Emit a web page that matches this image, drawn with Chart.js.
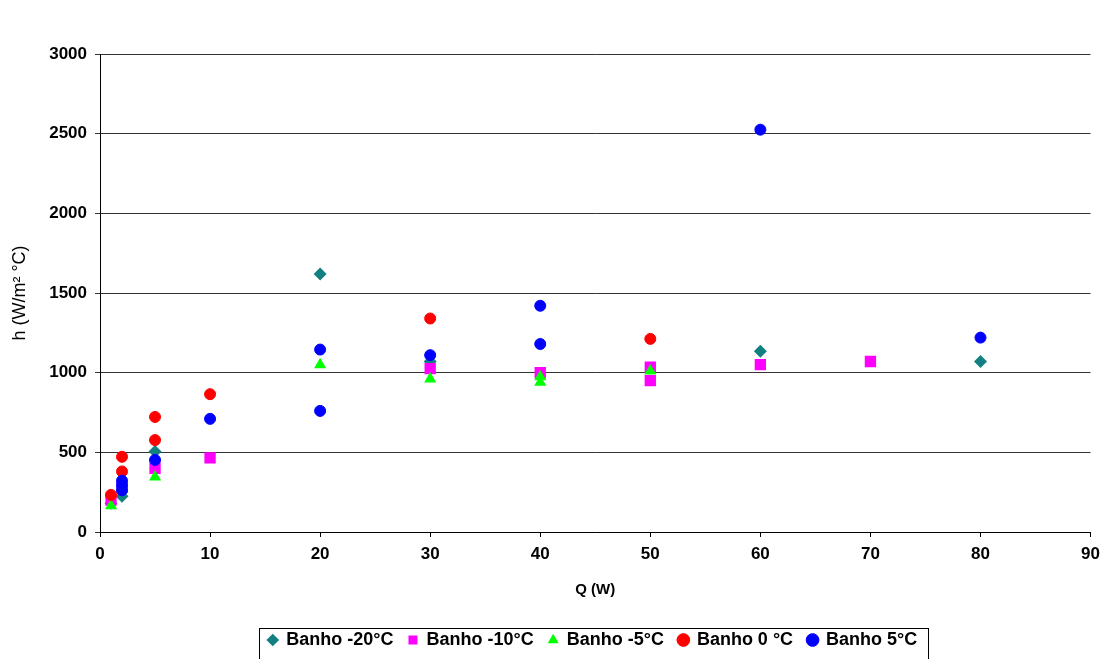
<!DOCTYPE html>
<html>
<head>
<meta charset="utf-8">
<script src="https://cdn.jsdelivr.net/npm/chart.js@4"></script>
<style>
  html, body { margin: 0; padding: 0; background: #fff; }
  #wrap { width: 1107px; height: 659px; }
</style>
</head>
<body>
<div id="wrap"><canvas id="grafico"></canvas></div>
<script>
// dados (Q em W, h em W/m²°C)
const serieNomes = ['Banho -20°C', 'Banho -10°C', 'Banho -5°C', 'Banho 0 °C', 'Banho 5°C'];

const q20 = [1, 2, 5, 20, 30, 60, 80];
const h20 = [180, 225, 505, 1620, 1070, 1135, 1070];

const q10 = [1, 2, 5, 10, 30, 40, 50, 50, 60, 70];
const h10 = [200, 280, 400, 465, 1025, 1000, 1035, 950, 1050, 1070];

const q5n = [1, 5, 20, 30, 40, 40, 50];
const h5n = [165, 345, 1050, 960, 975, 940, 1010];

const q0 = [1, 2, 2, 5, 5, 10, 30, 50];
const h0 = [233, 380, 472, 577, 722, 865, 1340, 1212];

const q5 = [2, 2, 2, 5, 10, 20, 20, 30, 40, 40, 60, 80];
const h5 = [262, 292, 322, 452, 710, 760, 1145, 1110, 1180, 1420, 2525, 1220];

const xTicks = [0, 10, 20, 30, 40, 50, 60, 70, 80, 90];
const yTicks = [0, 500, 1000, 1500, 2000, 2500, 3000];

function pontos(xs, ys) {
    return xs.map((x, i) => ({ x: x, y: ys[i] }));
}

const fonte = 'Arial, "Liberation Sans", sans-serif';

// caixa em volta da legenda, como no Excel
const bordaLegenda = {
    id: 'bordaLegenda',
    afterDraw(chart) {
        const lg = chart.legend;
        if (!lg || !lg.legendHitBoxes.length) return;
        const caixas = lg.legendHitBoxes;
        const esq = Math.min(...caixas.map(b => b.left)) - 9;
        const dir = Math.max(...caixas.map(b => b.left + b.width)) + 6;
        const topo = Math.min(...caixas.map(b => b.top)) - 3;
        const ctx = chart.ctx;
        ctx.save();
        ctx.strokeStyle = '#000';
        ctx.lineWidth = 1;
        ctx.strokeRect(Math.round(esq) + 0.5, Math.round(topo) + 0.5, Math.round(dir - esq), 40);
        ctx.restore();
    }
};

const ctx = document.getElementById('grafico').getContext('2d');
new Chart(ctx, {
    type: 'scatter',
    data: {
        datasets: [
            { label: serieNomes[0], data: pontos(q20, h20), pointStyle: 'rectRot', pointRadius: 6.5, backgroundColor: '#128080', borderColor: '#128080', borderWidth: 0, order: 4 },
            { label: serieNomes[1], data: pontos(q10, h10), pointStyle: 'rect', pointRadius: 8, backgroundColor: '#ff00ff', borderColor: '#ff00ff', borderWidth: 0, order: 3 },
            { label: serieNomes[2], data: pontos(q5n, h5n), pointStyle: 'triangle', pointRadius: 7, backgroundColor: '#00ff00', borderColor: '#00ff00', borderWidth: 0, order: 2 },
            { label: serieNomes[3], data: pontos(q0, h0), pointStyle: 'circle', pointRadius: 5.5, backgroundColor: '#ff0000', borderColor: '#ff0000', borderWidth: 1, order: 1 },
            { label: serieNomes[4], data: pontos(q5, h5), pointStyle: 'circle', pointRadius: 5.5, backgroundColor: '#0000ff', borderColor: '#0000ff', borderWidth: 1, order: 0 }
        ]
    },
    options: {
        responsive: true,
        maintainAspectRatio: false,
        animation: false,
        layout: { padding: { top: 54, right: 4, left: 0, bottom: 0 } },
        scales: {
            x: {
                type: 'linear',
                min: 0,
                max: 90,
                afterBuildTicks: (s) => { s.ticks = xTicks.map(v => ({ value: v })); },
                afterFit: (s) => { s.height = 89; },
                border: { display: true, color: '#000', width: 1 },
                grid: { drawOnChartArea: false, drawTicks: true, tickLength: 5, color: '#000' },
                ticks: { color: '#000', font: { family: fonte, size: 17, weight: 'bold' }, padding: 7, maxRotation: 0, callback: v => String(v) },
                title: { display: true, text: 'Q (W)', color: '#000', font: { family: fonte, size: 15, weight: 'bold' }, padding: { top: 0, bottom: 22 } }
            },
            y: {
                type: 'linear',
                min: 0,
                max: 3000,
                afterBuildTicks: (s) => { s.ticks = yTicks.map(v => ({ value: v })); },
                afterFit: (s) => { s.width = 100; },
                border: { display: true, color: '#000', width: 1 },
                grid: { color: '#333', lineWidth: 1, drawTicks: true, tickLength: 5 },
                ticks: { color: '#000', font: { family: fonte, size: 17, weight: 'bold' }, padding: 8, callback: v => String(v) },
                title: { display: true, text: 'h (W/m² °C)', color: '#000', font: { family: fonte, size: 18 }, padding: { top: 9, bottom: 0 } }
            }
        },
        plugins: {
            legend: {
                position: 'bottom',
                fullSize: false,
                labels: {
                    usePointStyle: true,
                    boxWidth: 9,
                    boxHeight: 9,
                    padding: 10,
                    color: '#000',
                    font: { family: fonte, size: 18, weight: 'bold' },
                    generateLabels: (chart) => Chart.defaults.plugins.legend.labels.generateLabels(chart).map(l => ({ ...l, text: l.text + ' ' })),
                    sort: (a, b) => a.datasetIndex - b.datasetIndex
                }
            },
            tooltip: { enabled: false }
        }
    },
    plugins: [bordaLegenda]
});
</script>
</body>
</html>
